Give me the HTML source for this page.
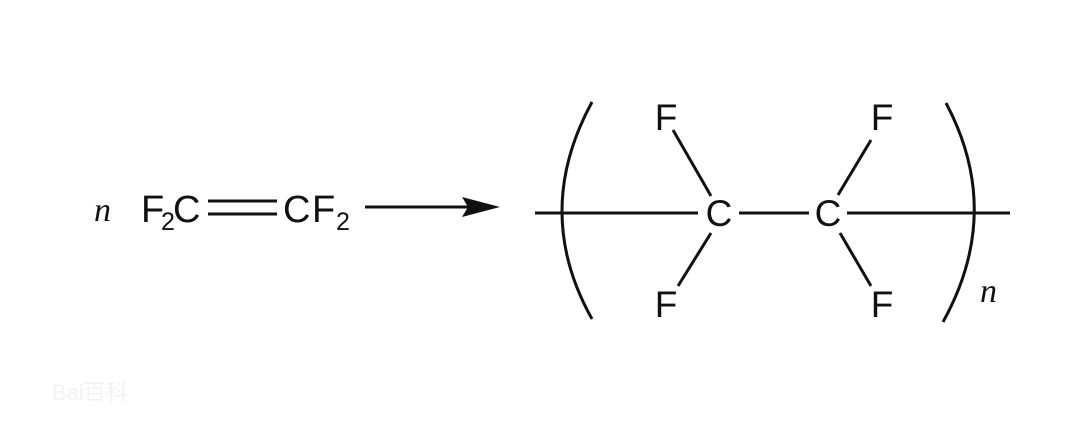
<!DOCTYPE html>
<html><head><style>body{margin:0;background:#fff}svg{display:block}</style></head>
<body>
<svg width="1080" height="423" viewBox="0 0 1080 423" xmlns="http://www.w3.org/2000/svg">
<g font-family="Liberation Sans, Arial, sans-serif" fill="#111">
<text x="94" y="221" font-family="Liberation Serif, serif" font-style="italic" font-size="34">n</text>
<text x="141" y="222" font-size="38">F</text>
<text x="161" y="230" font-size="25">2</text>
<text x="173" y="222" font-size="38">C</text>
<text x="283" y="222" font-size="38">C</text>
<text x="312" y="222" font-size="38">F</text>
<text x="336" y="230" font-size="25">2</text>
<g font-size="37" text-anchor="middle">
<text x="666" y="130">F</text>
<text x="882" y="130">F</text>
<text x="666" y="317">F</text>
<text x="882" y="317">F</text>
<text x="719" y="226">C</text>
<text x="828" y="226">C</text>
</g>
<text x="980" y="302" font-family="Liberation Serif, serif" font-style="italic" font-size="34">n</text>
</g>
<g stroke="#111" stroke-width="3" fill="none">
<line x1="208" y1="201" x2="277" y2="201"/>
<line x1="208" y1="214" x2="277" y2="214"/>
<line x1="365" y1="207" x2="475" y2="207"/>
<line x1="535" y1="213" x2="698" y2="213"/>
<line x1="739" y1="213" x2="809" y2="213"/>
<line x1="847" y1="213" x2="1010" y2="213"/>
<line x1="673" y1="130" x2="711" y2="196"/>
<line x1="711" y1="233" x2="678" y2="286"/>
<line x1="871" y1="140" x2="838" y2="195"/>
<line x1="840" y1="233" x2="871" y2="286"/>
<path d="M592 102 Q532 212 592 319"/>
<path d="M946 103 Q1004 212 943 322"/>
</g>
<polygon points="500,207 462,197 468,207 462,217" fill="#111"/>
<text x="52" y="400" font-family="Liberation Sans, Noto Sans CJK SC, sans-serif" font-size="22" fill="#f2f2f2">Bai百科</text>
</svg>
</body></html>
